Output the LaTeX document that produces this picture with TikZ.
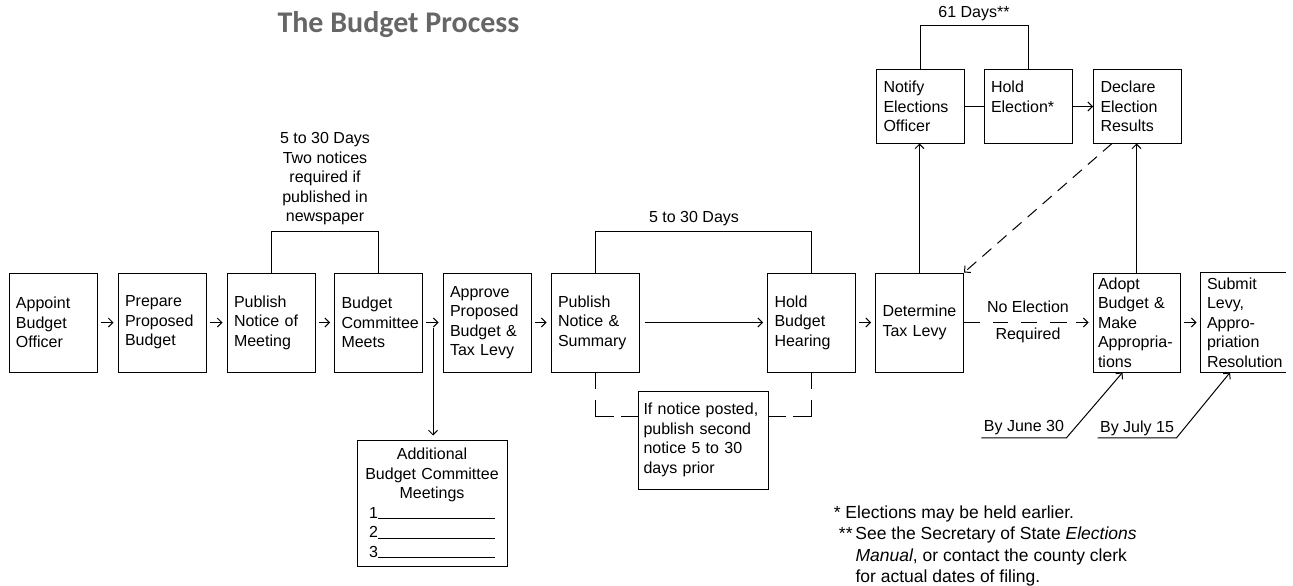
\documentclass[tikz,border=0pt]{standalone}
\usepackage{fontspec}
\setmainfont{Liberation Sans}
\newfontfamily\titlefont{Carlito}
\usetikzlibrary{arrows.meta}

\begin{document}
\begin{tikzpicture}[x=1pt, y=-1pt, line width=1pt,
  every node/.style={font=\fontsize{16}{19.5}\selectfont},
  stepbox/.style={draw, align=left, text width=74pt, inner xsep=7pt, inner ysep=0pt, minimum height=99pt},
  votebox/.style={stepbox, minimum height=73pt},
  flow/.style={-{Straight Barb[length=4.5pt,width=9pt]}, shorten <=3pt, shorten >=4pt},
  rise/.style={-{Straight Barb[length=4.5pt,width=9pt]}},
  noticeline/.style={dash pattern=on 16pt off 11pt on 36pt off 7pt on 40pt}]
\useasboundingbox (0,0) rectangle (1293,586);

\node[anchor=base west, inner sep=0pt, text=black!60, font=\titlefont\bfseries\fontsize{30}{36}\selectfont] (t1) at (277,33) {The Budget Process};

\node[stepbox] (n1) at (53,322.5) {Appoint\\Budget\\Officer};
\node[stepbox] (n2) at (162,322.5) {Prepare\\Proposed\\Budget};
\node[stepbox] (n3) at (271,322.5) {Publish\\Notice of\\Meeting};
\node[stepbox] (n4) at (378.5,322.5) {Budget\\Committee\\Meets};
\node[stepbox] (n5) at (487,322.5) {Approve\\Proposed\\Budget \&\\Tax Levy};
\node[stepbox] (n6) at (595,322.5) {Publish\\Notice \&\\Summary};
\node[stepbox] (n7) at (811.5,322.5) {Hold\\Budget\\Hearing};
\node[stepbox] (n8) at (919.5,322.5) {Determine\\Tax Levy};
\node[stepbox, inner xsep=5pt, text width=77pt] (n9) at (1136.5,322.5) {Adopt\\Budget \&\\Make\\Appropria-\\tions};
\node[stepbox, draw=none, inner xsep=6pt, text width=72pt] (n10) at (1243,322.5) {Submit\\Levy,\\Appro-\\priation\\Resolution};

\node[votebox] (e1) at (920.5,106.5) {Notify\\Elections\\Officer};
\node[votebox] (e2) at (1028,106.5) {Hold\\Election*\\\mbox{}};
\node[votebox] (e3) at (1137.5,106.5) {Declare\\Election\\Results};

\node[draw, align=center, text width=136pt, inner xsep=7pt, inner ysep=0pt, minimum height=126pt] (a1) at (432,503) {Additional\\Budget Committee\\Meetings\\1\rule[-1pt]{117pt}{0.8pt}\\2\rule[-1pt]{117pt}{0.8pt}\\3\rule[-1pt]{117pt}{0.8pt}};
\node[draw, align=left, text width=119pt, inner xsep=5.5pt, inner ysep=0pt, minimum height=98pt] (p1) at (703,440) {If notice posted,\\publish second\\notice 5 to 30\\days prior};

\node[align=center] (d1) at (325,179) {5 to 30 Days\\Two notices\\required if\\published in\\newspaper};
\node (d2) at (694,219) {5 to 30 Days};
\node (d3) at (974,14) {61 Days**};
\node (d4) at (1028,307) {No Election};
\node (d5) at (1028,335) {Required};
\node[inner xsep=2pt, inner ysep=2pt] (j1) at (1024,428) {By June 30};
\node[inner xsep=2pt, inner ysep=2pt] (j2) at (1137,428) {By July 15};

\node[anchor=north west, align=left, inner sep=0pt, font=\fontsize{17.5}{21.5}\selectfont] (f1) at (828,505) {\makebox[17pt][r]{*\ }Elections may be held earlier.\\\makebox[27pt][r]{**\,}See the Secretary of State \textit{Elections}\\\makebox[27pt]{}\textit{Manual}, or contact the county clerk\\\makebox[27pt]{}for actual dates of filing.};

\coordinate (c1) at (433,328);

\draw[flow] (n1) -- (n2);
\draw[flow] (n2) -- (n3);
\draw[flow] (n3) -- (n4);
\draw[flow] (n4) -- (n5);
\draw[flow] (n5) -- (n6);
\draw[flow, shorten <=5pt] (n6) -- (n7);
\draw[flow] (n7) -- (n8);
\draw[flow] (n9) -- (n10);
\draw (n10.north east) -- (n10.north west) -- (n10.south west) -- (n10.south east);

\draw (n3.north) -- ++(0,-41) -| (n4.north);
\draw (n6.north) -- ++(0,-41) -| (n7.north);
\draw (e1.north) -- ++(0,-44) -| (e2.north);

\draw[rise, shorten >=4pt] (c1) -- (c1 |- a1.north);
\draw[noticeline] (n6.south) |- ([yshift=-26pt]p1.north west);
\draw[noticeline] (n7.south) |- ([yshift=-26pt]p1.north east);

\draw (e1) -- (e2);
\draw[rise] (e2) -- (e3);
\draw[rise] (n8.north) -- (n8.north |- e1.south);
\draw[rise] (n9.north) -- (n9.north |- e3.south);
\draw[rise, dash pattern=on 12pt off 8pt] ([xshift=19pt]e3.south west) -- (n8.north east);
\draw[rise, shorten >=4pt, dash pattern=on 16pt off 13pt on 15pt off 13pt on 16pt off 13pt on 17pt off 9pt on 40pt] (n8) -- (n9);

\draw[rise] (j1.south west) -- (j1.south east) -- ([xshift=-14pt]n9.south);
\draw[rise] (j2.south west) -- (j2.south east) -- ([xshift=-13pt]n10.south);
\end{tikzpicture}
\end{document}
